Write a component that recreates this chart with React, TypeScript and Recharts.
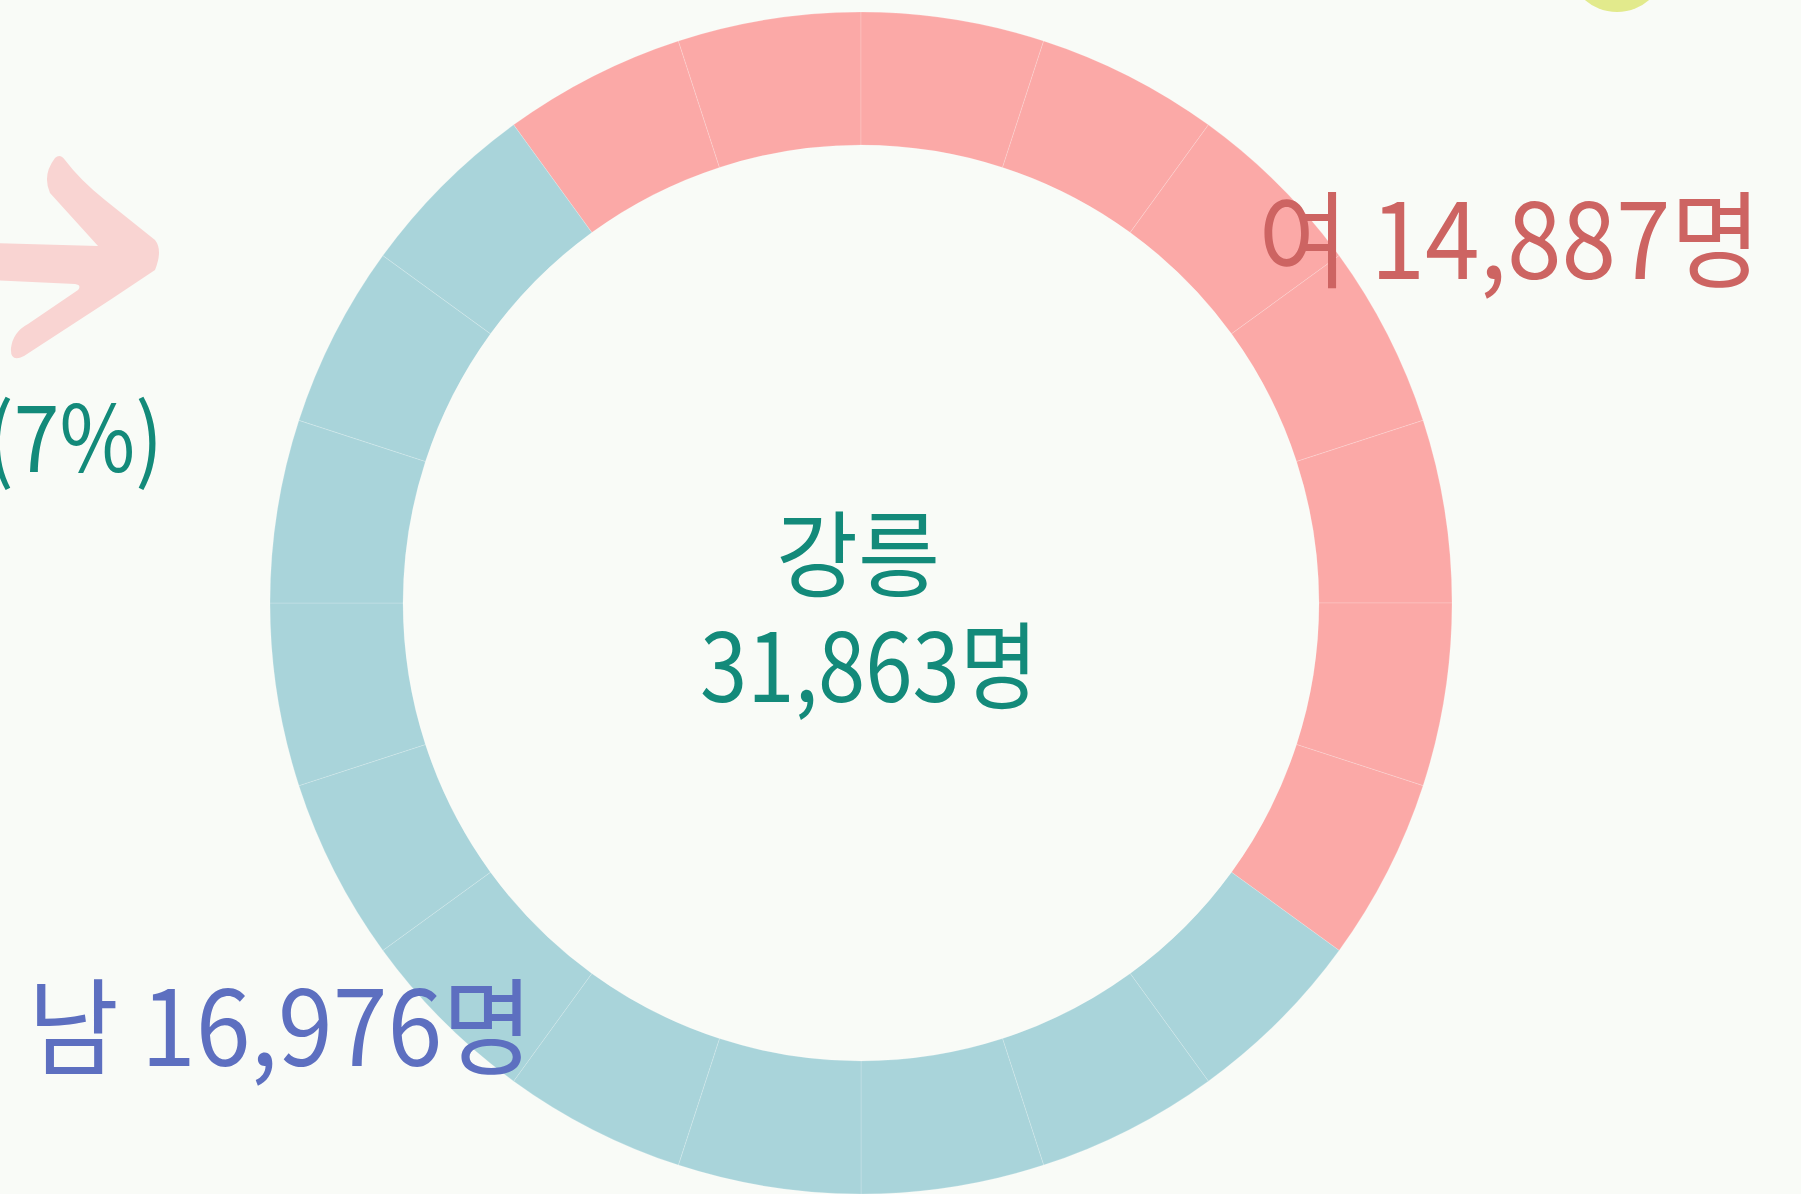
import { Cell, Pie, PieChart } from 'recharts';

const region = '강릉';
const totalCount = '31,863명';
const femaleText = '여 14,887명';
const maleText = '남 16,976명';
const sideText = '(7%)';

// 20 ring pieces, clockwise from the upper left
const segmentGroups = [
  'female', 'female', 'female', 'female', 'female', 'female', 'female', 'female', 'female',
  'male', 'male', 'male', 'male', 'male', 'male', 'male', 'male', 'male', 'male', 'male',
];
const segmentValues = [1, 1, 1, 1, 1, 1, 1, 1, 1, 1, 1, 1, 1, 1, 1, 1, 1, 1, 1, 1];

const segments = segmentGroups.map((g, i) => ({ group: g, value: segmentValues[i] }));

const FILL: Record<string, string> = { female: '#fba9a7', male: '#a9d4da' };
const BG = '#f9fbf7';
const FONT = '"Noto Sans CJK KR", "Noto Sans", sans-serif';

export default function App() {
  return (
    <div style={{ position: 'absolute', left: 0, top: 0, width: 1801, height: 1194, background: BG, overflow: 'hidden' }}>
      <svg width={1801} height={1194} style={{ position: 'absolute', left: 0, top: 0 }}>
        <path
          d="M -10 243 L 98 246 L 50 193 Q 42 175 55 158 Q 60 153 65 160 Q 80 180 105 200 L 155 240 Q 163 250 155 270 L 110 300 L 24 356 Q 10 363 11 348 Q 13 332 28 324 L 78 290 Q 82 285 75 284 L -10 280 Z"
          fill="#f9d4d2"
        />
        <circle cx={1617} cy={-37} r={49} fill="#e2ea8c" />
      </svg>
      <div style={{ position: 'absolute', left: 0, top: 0 }}>
        <PieChart width={1801} height={1194} margin={{ top: 0, right: 0, bottom: 0, left: 0 }}>
          <Pie
            data={segments}
            dataKey="value"
            cx={861}
            cy={603}
            innerRadius={458}
            outerRadius={591}
            startAngle={126}
            endAngle={-234}
            stroke="#ffffff"
            strokeWidth={0.6}
            strokeOpacity={0.3}
            isAnimationActive={false}
          >
            {segments.map((s, i) => (
              <Cell key={i} fill={FILL[s.group]} />
            ))}
          </Pie>
        </PieChart>
      </div>
      <svg width={1801} height={1194} style={{ position: 'absolute', left: 0, top: 0, pointerEvents: 'none' }}>
        <g fontFamily={FONT}>
          <text x={-14} y={472} fontSize={92} fill="#138a7a" textLength={177} lengthAdjust="spacingAndGlyphs">{sideText}</text>
          <text x={776} y={590} fontSize={94} fill="#138a7a" textLength={164} lengthAdjust="spacingAndGlyphs">{region}</text>
          <text x={700} y={702} fontSize={95} fill="#138a7a" textLength={338} lengthAdjust="spacingAndGlyphs">{totalCount}</text>
          <text x={1258} y={279} fontSize={105} fill="#cd6462" textLength={503} lengthAdjust="spacingAndGlyphs">{femaleText}</text>
          <text x={28} y={1066} fontSize={105} fill="#5d6fc0" textLength={505} lengthAdjust="spacingAndGlyphs">{maleText}</text>
        </g>
      </svg>
    </div>
  );
}
